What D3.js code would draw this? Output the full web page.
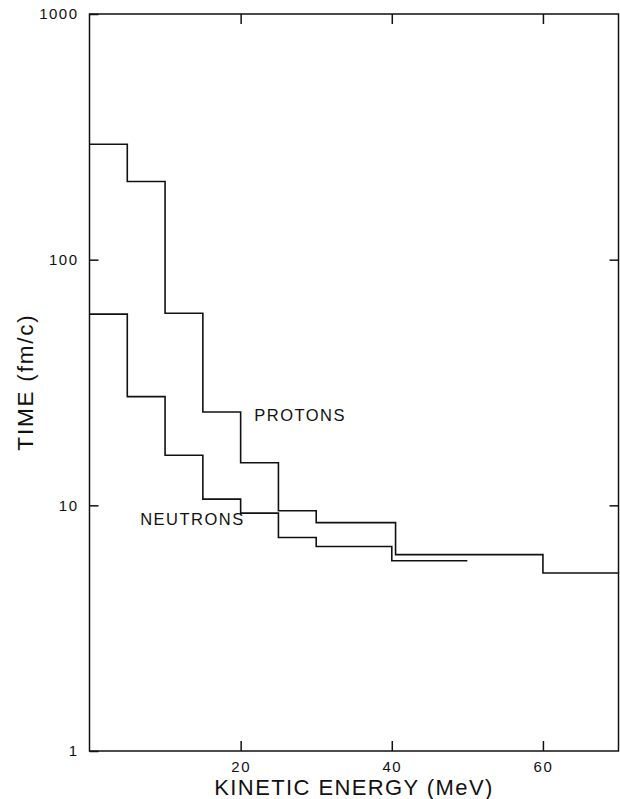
<!DOCTYPE html>
<html>
<head>
<meta charset="utf-8">
<script src="https://cdn.jsdelivr.net/npm/d3@7"></script>
<style>
  body { margin: 0; background: #fff; }
  svg { display: block; font-family: "Liberation Sans", Arial, Helvetica, sans-serif; }
  .axis text { font-size: 15px; letter-spacing: 1.5px; fill: #111; }
  .axis line { stroke: #111; stroke-width: 1.5; }
  .axis path { display: none; }
</style>
</head>
<body>
<div id="container"></div>
<script>
/* DATA */
const protonEdges = [0, 5, 10, 15, 20, 25, 30, 40.5, 60, 70];
const protonTimes = [295, 208, 60.5, 24, 14.9, 9.5, 8.5, 6.3, 5.3];
const neutronEdges = [0, 5, 10, 15, 20, 25, 30, 40, 50];
const neutronTimes = [60, 27.7, 16, 10.6, 9.3, 7.4, 6.8, 5.95];
const xTicks = [20, 40, 60];
const yTicks = [1, 10, 100, 1000];
const seriesLabels = [
  { name: "PROTONS", x: 21.8, y: 22 },
  { name: "NEUTRONS", x: 6.7, y: 8.3 }
];

/* CONSTANTS */
const width = 620, height = 799;
const plot = { left: 89.5, right: 618.5, top: 14, bottom: 751 };

const svg = d3.select("#container")
  .append("svg")
  .attr("width", width)
  .attr("height", height);

// SCALES
const x = d3.scaleLinear().domain([0, 70]).range([plot.left, plot.right]);
const y = d3.scaleLog().domain([1, 1000]).range([plot.bottom, plot.top]);

// FRAME
svg.append("rect")
  .attr("x", plot.left).attr("y", plot.top)
  .attr("width", plot.right - plot.left)
  .attr("height", plot.bottom - plot.top)
  .attr("fill", "none")
  .attr("stroke", "#111")
  .attr("stroke-width", 1.5);

// AXES (ticks point inward)
svg.append("g")
  .attr("class", "axis")
  .attr("transform", `translate(${plot.left},0)`)
  .call(d3.axisLeft(y).tickValues(yTicks).tickFormat(d3.format("d"))
    .tickSize(-9).tickPadding(11));

svg.append("g")
  .attr("class", "axis")
  .attr("transform", `translate(${plot.right},0)`)
  .call(d3.axisRight(y).tickValues([10, 100]).tickFormat("").tickSize(-9));

svg.append("g")
  .attr("class", "axis")
  .attr("transform", `translate(0,${plot.bottom})`)
  .call(d3.axisBottom(x).tickValues(xTicks).tickSize(-10).tickPadding(10));

svg.append("g")
  .attr("class", "axis")
  .attr("transform", `translate(0,${plot.top})`)
  .call(d3.axisTop(x).tickValues(xTicks).tickFormat("").tickSize(-10));

// axis titles
svg.append("text")
  .attr("x", (213 + 495) / 2)
  .attr("y", 795)
  .attr("text-anchor", "middle")
  .attr("font-size", 22)
  .attr("letter-spacing", "1.4px")
  .attr("fill", "#111")
  .text("KINETIC ENERGY (MeV)");

svg.append("text")
  .attr("transform", `translate(33,382) rotate(-90)`)
  .attr("text-anchor", "middle")
  .attr("font-size", 22.5)
  .attr("letter-spacing", "1.8px")
  .attr("fill", "#111")
  .text("TIME (fm/c)");

// STEP LINES
const stepLine = d3.line()
  .x(d => x(d[0]))
  .y(d => y(d[1]))
  .curve(d3.curveStepAfter);

function stepPoints(edges, values) {
  return edges.map((e, i) => [e, values[Math.min(i, values.length - 1)]]);
}

svg.selectAll("path.step")
  .data([stepPoints(protonEdges, protonTimes), stepPoints(neutronEdges, neutronTimes)])
  .join("path")
  .attr("class", "step")
  .attr("d", stepLine)
  .attr("fill", "none")
  .attr("stroke", "#111")
  .attr("stroke-width", 1.6);

// SERIES LABELS
svg.selectAll("text.series")
  .data(seriesLabels)
  .join("text")
  .attr("class", "series")
  .attr("x", d => x(d.x))
  .attr("y", d => y(d.y))
  .attr("font-size", 16.5)
  .attr("letter-spacing", "1.5px")
  .attr("fill", "#111")
  .text(d => d.name);
</script>
</body>
</html>
